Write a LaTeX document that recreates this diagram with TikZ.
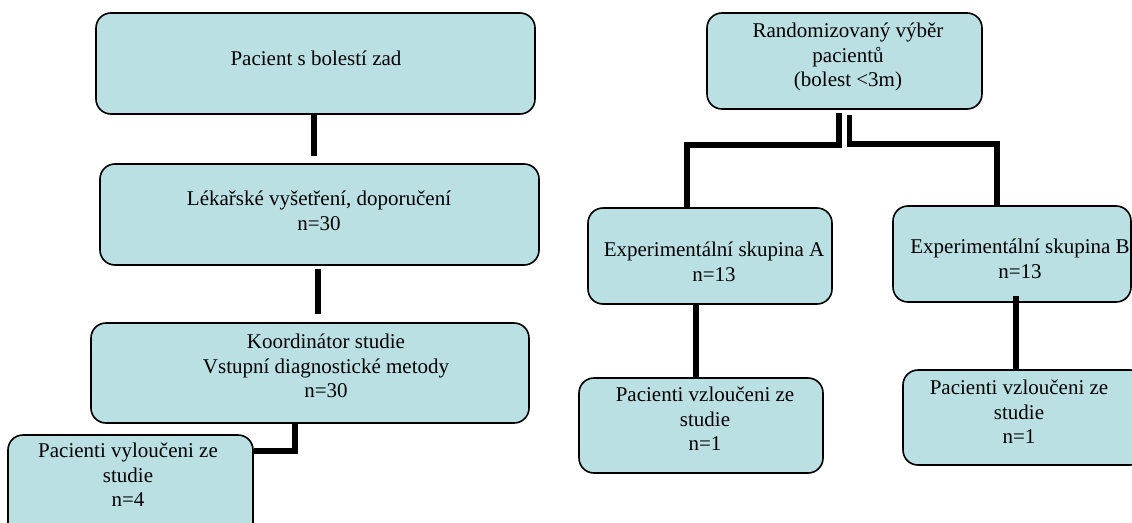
\documentclass[tikz,border=0pt]{standalone}
\usepackage{fontspec}
\setmainfont{Liberation Serif}
\usetikzlibrary{calc}
\definecolor{boxfill}{RGB}{186,224,228}
\begin{document}
\begin{tikzpicture}[x=1pt,y=-1pt,
  box/.style={draw=black, line width=1.6pt, fill=boxfill, rounded corners=15pt, inner sep=0pt},
  txt/.style={align=center, inner sep=0pt, font=\fontsize{21}{24.5}\selectfont},
  conn/.style={line width=5.5pt}]
\useasboundingbox (0,0) rectangle (1132,522);
% boxes
\node[box, minimum width=439, minimum height=101] (b1) at (315.5,63.5) {};
\node[box, minimum width=439, minimum height=101] (b2) at (319.5,214.5) {};
\node[box, minimum width=438, minimum height=100] (b3) at (310,373) {};
\node[box, minimum width=245, minimum height=105] (b4) at (130.5,487.5) {};
\node[box, minimum width=275, minimum height=96] (r1) at (844.5,61) {};
\node[box, minimum width=244, minimum height=96] (a) at (710,256) {};
\node[box, minimum width=238, minimum height=96] (b) at (1012,254) {};
\node[box, minimum width=244, minimum height=95] (a2) at (701,425.5) {};
\node[box, minimum width=242, minimum height=95] (b2r) at (1024,417.5) {};
% texts
\node[txt] (t1) at (316,58) {Pacient s bolestí zad};
\node[txt] (t2) at (319,211) {Lékařské vyšetření, doporučení\\n=30};
\node[txt] (t3) at (326,366) {Koordinátor studie\\Vstupní diagnostické metody\\n=30};
\node[txt] (t4) at (128,475) {Pacienti vyloučeni ze\\studie\\n=4};
\node[txt] (tr1) at (848,57) {Randomizovaný výběr\\pacientů\\(bolest <3m)};
\node[txt] (ta) at (714,262) {Experimentální skupina A\\n=13};
\node[txt] (tb) at (1020,259) {Experimentální skupina B\\n=13};
\node[txt] (ta2) at (705,419) {Pacienti vzloučeni ze\\studie\\n=1};
\node[txt] (tb2) at (1019,412) {Pacienti vzloučeni ze\\studie\\n=1};
% connectors
\draw[conn] ([xshift=-1.5pt]b1.south) -- ($([xshift=-1.5pt]b1.south |- b2.north)+(0,7pt)$);
\draw[conn] ($(b2.south)+(-1.5pt,-3pt)$) -- ($([xshift=-1.5pt]b2.south |- b3.north)+(0,8pt)$);
\draw[conn] ([xshift=-15pt]b3.south) |- ([yshift=-17pt]b4.north east);
\draw[conn] ($(r1.south)+(-5.5pt,-3pt)$) -- ++(0,32) -| ([xshift=-23pt]a.north);
\draw[conn] ($(r1.south)+(5pt,-5pt)$) -- ++(0,29) -| ([xshift=-15pt]b.north);
\draw[conn] ([xshift=-14pt]a.south) -- ($(a.south |- a2.north)+(-14pt,0)$);
\draw[conn] ($(b.south)+(4pt,7pt)$) -- ($(b.south |- b2r.north)+(4pt,0)$);
\end{tikzpicture}
\end{document}
